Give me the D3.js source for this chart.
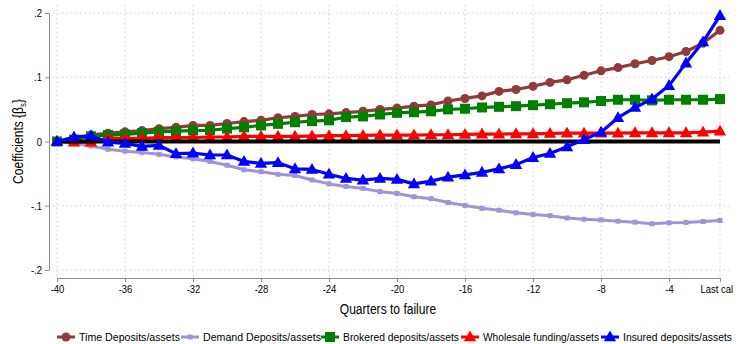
<!DOCTYPE html>
<html>
<head>
<meta charset="utf-8">
<script src="https://cdn.jsdelivr.net/npm/d3@7"></script>
<style>
  body { margin: 0; background: #fff; }
  svg { display: block; font-family: "Liberation Sans", Arial, sans-serif; }
</style>
</head>
<body>
<div id="chart"></div>
<script>
// quarters to failure (-1 is the last call report)
const quarters = d3.range(-40, 0);
const xTickValues = [-40, -36, -32, -28, -24, -20, -16, -12, -8, -4, -1];
const xTickLabels = ['-40', '-36', '-32', '-28', '-24', '-20', '-16', '-12', '-8', '-4', 'Last cal'];
const yTickValues = [-0.2, -0.1, 0, 0.1, 0.2];
const yTickLabels = ['-.2', '-.1', '0', '.1', '.2'];

const seriesNames = ['Time Deposits/assets', 'Demand Deposits/assets', 'Brokered deposits/assets', 'Wholesale funding/assets', 'Insured deposits/assets'];

const timeDeposits = [0, .004, .010, .013, .015, .017, .020, .022, .025, .025, .028,
  .031, .033, .037, .039, .042, .043, .045, .047, .050, .052,
  .055, .057, .063, .067, .071, .078, .081, .086, .092, .096,
  .103, .110, .115, .121, .126, .132, .140, .153, .173];
const demandDeposits = [0, -.003, -.007, -.012, -.015, -.017, -.020, -.024, -.027, -.031, -.037,
  -.044, -.047, -.051, -.053, -.060, -.066, -.070, -.073, -.078, -.081,
  -.086, -.089, -.095, -.0995, -.104, -.107, -.111, -.1135, -.1155, -.119,
  -.121, -.122, -.124, -.1255, -.128, -.1265, -.126, -.1245, -.123];
const brokeredDeposits = [0, .003, .008, .010, .011, .013, .015, .016, .017, .0175, .020,
  .022, .025, .0275, .030, .0316, .033, .038, .039, .042, .0446,
  .0456, .047, .050, .051, .053, .054, .055, .0565, .058, .0596,
  .061, .063, .065, .065, .064, .065, .065, .065, .066];
const wholesaleFunding = [0, -.001, -.001, .005, .005, .005, .006, .006, .006, .007, .007,
  .008, .008, .008, .008, .0085, .009, .009, .0095, .010, .010,
  .010, .0105, .0105, .011, .0115, .0115, .012, .012, .0125, .013,
  .013, .013, .013, .0135, .0135, .0135, .0135, .0145, .016];
const insuredDeposits = [0, .007, .009, -.001, -.003, -.0075, -.006, -.019, -.018, -.021, -.021,
  -.031, -.034, -.033, -.0425, -.0435, -.051, -.0575, -.060, -.0575, -.059,
  -.066, -.0617, -.0555, -.052, -.048, -.0425, -.036, -.025, -.0187, -.0083,
  .003, .0145, .037, .053, .066, .087, .122, .155, .196];

const seriesValues = [timeDeposits, demandDeposits, brokeredDeposits, wholesaleFunding, insuredDeposits];
const colors = ['#903a3a', '#9d95d6', '#008000', '#ff0000', '#0000ff'];
const markers = ['circle', 'smallsquare', 'square', 'triangle', 'triangle'];

const width = 738, height = 344;
const svg = d3.select('#chart').append('svg')
  .attr('width', width)
  .attr('height', height);

const x = d3.scaleLinear().domain([-40, -1]).range([57, 720]);
const y = d3.scaleLinear().domain([-0.2, 0.2]).range([270, 13]);

const plotLeft = 53, plotRight = 729, plotTop = 5, plotBottom = 278;

// squeeze text to look like the narrow font of the original
function narrow(sel, k) {
  sel.each(function () {
    const w = this.getComputedTextLength();
    d3.select(this).attr('textLength', w * k).attr('lengthAdjust', 'spacingAndGlyphs');
  });
}

// grid
svg.append('g').selectAll('line')
  .data(yTickValues.filter(d => d !== 0))
  .enter().append('line')
  .attr('x1', plotLeft).attr('x2', plotRight)
  .attr('y1', d => y(d)).attr('y2', d => y(d))
  .attr('stroke', '#cfcfcf').attr('stroke-width', 1).attr('stroke-dasharray', '1.5,3');
svg.append('g').selectAll('line')
  .data(xTickValues)
  .enter().append('line')
  .attr('x1', d => x(d)).attr('x2', d => x(d))
  .attr('y1', plotTop).attr('y2', plotBottom)
  .attr('stroke', '#cfcfcf').attr('stroke-width', 1).attr('stroke-dasharray', '1.5,3');

// axes
const yAxis = svg.append('g')
  .attr('transform', 'translate(49,0)')
  .call(d3.axisLeft(y).tickValues(yTickValues).tickFormat((d, i) => yTickLabels[i]).tickSize(4).tickSizeOuter(0).tickPadding(3));
const xAxis = svg.append('g')
  .attr('transform', `translate(0,${plotBottom})`)
  .call(d3.axisBottom(x).tickValues(xTickValues).tickFormat((d, i) => xTickLabels[i]).tickSize(4).tickSizeOuter(0).tickPadding(3));
[xAxis, yAxis].forEach(ax => {
  ax.select('.domain').attr('stroke', '#8c8c8c');
  ax.selectAll('.tick line').attr('stroke', '#8c8c8c');
  ax.selectAll('.tick text').attr('fill', '#000').style('font-size', '11px').style('font-family', 'inherit');
  narrow(ax.selectAll('.tick text'), 0.86);
});
xAxis.selectAll('.tick text').filter((d, i) => i === xTickLabels.length - 1)
  .attr('text-anchor', 'start').attr('dx', -20);

// axis titles
const xTitle = svg.append('text')
  .attr('x', 388).attr('y', 314)
  .attr('text-anchor', 'middle')
  .style('font-size', '14px')
  .text('Quarters to failure');
narrow(xTitle, 0.86);
const yTitle = svg.append('text')
  .attr('transform', `translate(23,${y(0)}) rotate(-90)`)
  .attr('text-anchor', 'middle')
  .style('font-size', '14px');
yTitle.append('tspan').text('Coefficients {β');
yTitle.append('tspan').attr('dy', 3).style('font-size', '9px').text('s');
yTitle.append('tspan').attr('dy', -3).text('}');
yTitle.selectAll('tspan').each(function () {
  const w = this.getComputedTextLength();
  d3.select(this).attr('textLength', w * 0.86).attr('lengthAdjust', 'spacingAndGlyphs');
});

function drawMarker(g, type, color, cx, cy) {
  if (type === 'circle') {
    g.append('circle').attr('cx', cx).attr('cy', cy).attr('r', 4.5).attr('fill', color);
  } else if (type === 'square') {
    g.append('rect').attr('x', cx - 5).attr('y', cy - 5).attr('width', 10).attr('height', 10).attr('fill', color);
  } else if (type === 'smallsquare') {
    g.append('rect').attr('x', cx - 2.5).attr('y', cy - 2.5).attr('width', 5).attr('height', 5).attr('fill', color);
  } else {
    const s = 6.2;
    g.append('path')
      .attr('d', `M${cx},${cy - s * 1.05}L${cx + s},${cy + s * 0.7}L${cx - s},${cy + s * 0.7}Z`)
      .attr('fill', color);
  }
}

const line = d3.line().x((d, i) => x(quarters[i])).y(d => y(d));

function drawSeries(k) {
  const g = svg.append('g');
  g.append('path')
    .datum(seriesValues[k])
    .attr('d', line)
    .attr('fill', 'none')
    .attr('stroke', colors[k])
    .attr('stroke-width', k === 1 ? 3 : 3.2)
    .attr('stroke-linejoin', 'round');
  seriesValues[k].forEach((v, i) => drawMarker(g, markers[k], colors[k], x(quarters[i]), y(v)));
}

[0, 1, 2, 3].forEach(drawSeries);

// zero reference line
svg.append('line')
  .attr('x1', x(-40)).attr('x2', x(-1))
  .attr('y1', y(0)).attr('y2', y(0))
  .attr('stroke', '#000').attr('stroke-width', 4);

drawSeries(4);

// legend
const legendX = [57, 181, 321, 461, 601];
const legendTextW = [101, 118, 116, 116, 109];
const legend = svg.append('g').attr('transform', 'translate(0,337)');
seriesNames.forEach((name, k) => {
  const g = legend.append('g');
  g.append('line')
    .attr('x1', legendX[k]).attr('x2', legendX[k] + 18)
    .attr('y1', 0).attr('y2', 0)
    .attr('stroke', colors[k]).attr('stroke-width', 3);
  drawMarker(g, markers[k], colors[k], legendX[k] + 9, 0);
  g.append('text')
    .attr('x', legendX[k] + 22).attr('y', 4)
    .style('font-size', '11px')
    .attr('textLength', legendTextW[k])
    .attr('lengthAdjust', 'spacingAndGlyphs')
    .text(name);
});
</script>
</body>
</html>
